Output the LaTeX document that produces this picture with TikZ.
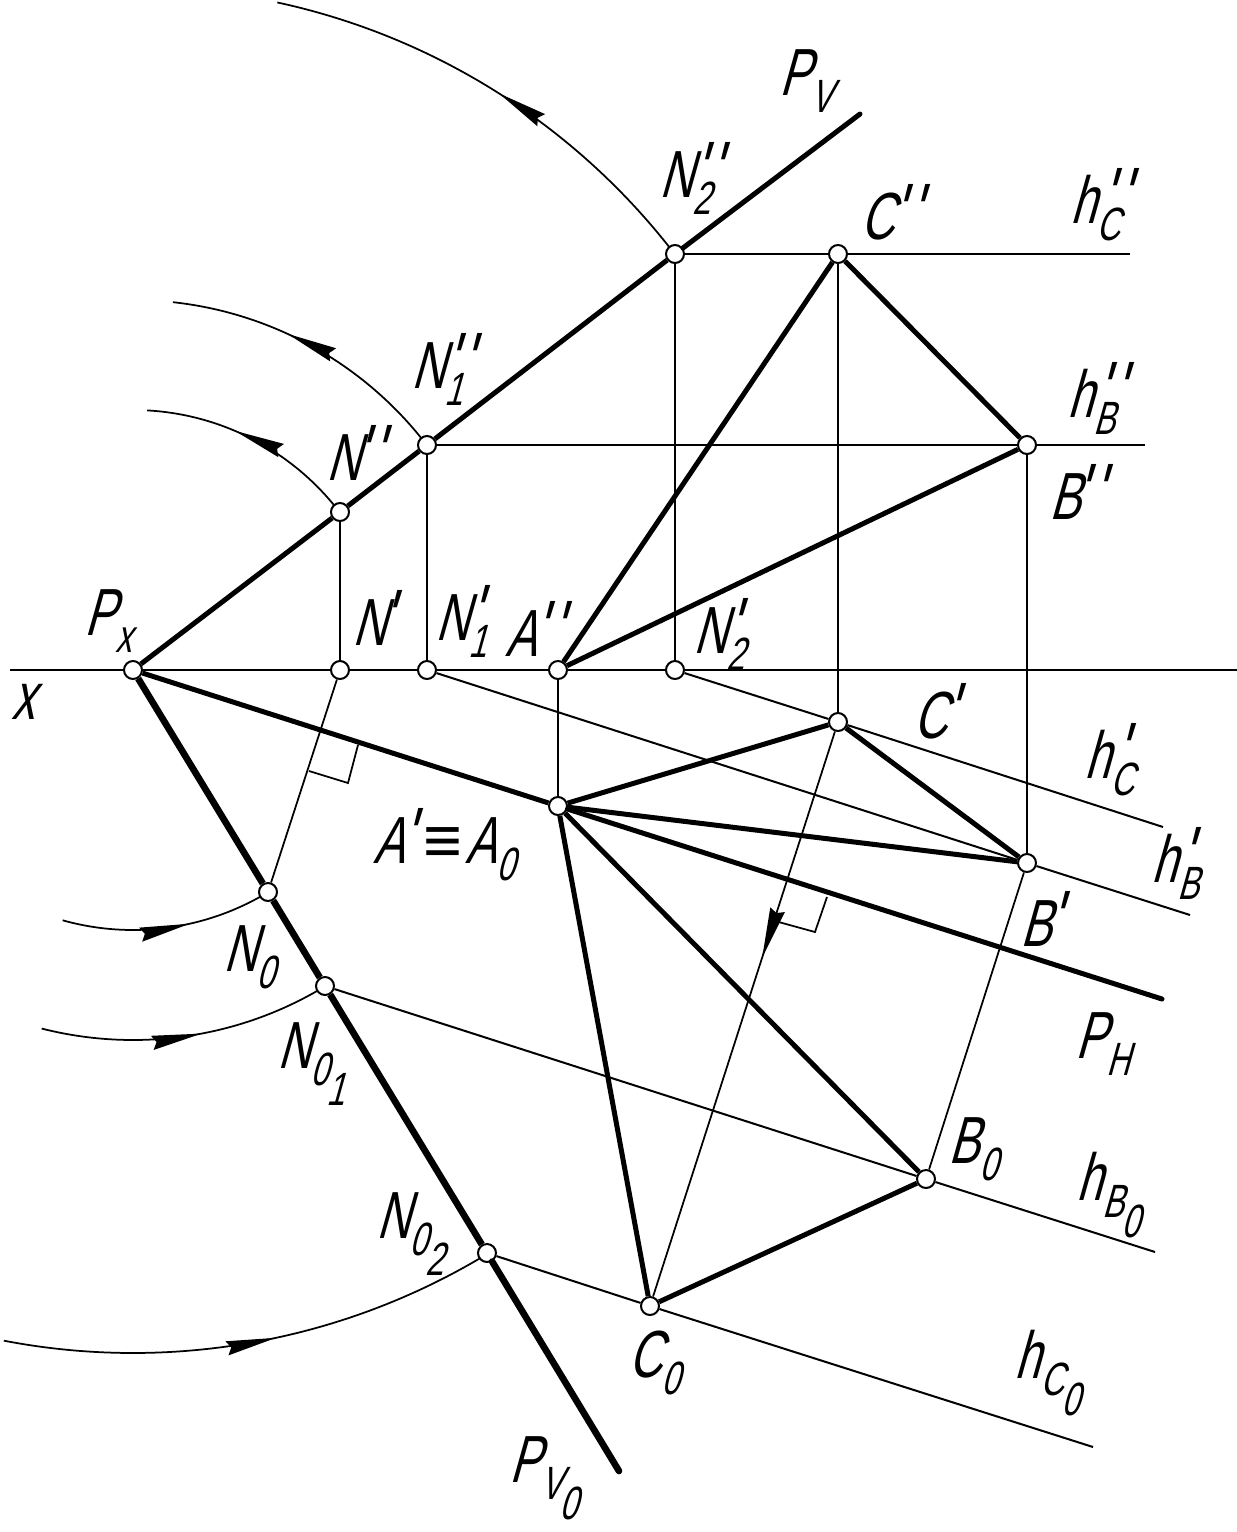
\documentclass[tikz,border=0pt]{standalone}
\usepackage{fontspec}
\usetikzlibrary{arrows.meta,decorations.markings}
\newfontfamily\gostfont[FakeStretch=.7,FakeSlant=.28]{Liberation Sans}
\newfontfamily\gostplain{Liberation Sans}
\newcommand{\sub}[1]{\raisebox{-10.5pt}{\fontsize{28}{28}\selectfont #1}}
\newcommand{\subb}[1]{\raisebox{-22.2pt}{\kern-1.5pt\fontsize{28}{28}\selectfont #1}}
\newcommand{\prm}[1]{\kern#1{\fontsize{48}{48}\selectfont '}}
\newcommand{\pprm}[1]{\kern#1{\fontsize{48}{48}\selectfont '\kern3.5pt'}}

\begin{document}
\begin{tikzpicture}[x=0.6pt,y=-0.6pt]
      \useasboundingbox (0,0) rectangle (1237,1532);
      \tikzset{pt/.style={draw,circle,fill=white,inner sep=0pt,minimum size=10.8pt,line width=1.2pt}}
      \tikzset{thinline/.style={line width=1.2pt}}
      \tikzset{fineline/.style={line width=1.05pt}}
      \tikzset{thickline/.style={line width=3pt}}
      \tikzset{heavyline/.style={line width=4pt}}
      \tikzset{lab/.style={anchor=base west,inner sep=0pt,xshift=-2.5pt,font=\gostfont\fontsize{40}{40}\selectfont}}
      \tikzset{rotarrow/.style={postaction={decorate,decoration={markings,mark=at position #1 with {\arrow{Stealth[length=30pt,width=8.5pt,inset=2.5pt]}}}}}}

      % rotation arcs first, the points lie on top
      \coordinate (Pxc) at (133,670);
      \draw[fineline,rotarrow=.58] ([shift={(-39.3:260)}]Pxc) arc[start angle=-39.3,end angle=-86.9,radius=260];
      \draw[fineline,rotarrow=.59] ([shift={(-38.7:370)}]Pxc) arc[start angle=-38.7,end angle=-83.8,radius=370];
      \draw[fineline,rotarrow=.49] ([shift={(-38.2:683)}]Pxc) arc[start angle=-38.2,end angle=-77.8,radius=683];
      \draw[fineline,rotarrow=.627] ([shift={(105.7:260)}]Pxc) arc[start angle=105.7,end angle=60.6,radius=260];
      \draw[fineline,rotarrow=.564] ([shift={(104.3:370)}]Pxc) arc[start angle=104.3,end angle=60,radius=370];
      \draw[fineline,rotarrow=.554] ([shift={(100.9:683)}]Pxc) arc[start angle=100.9,end angle=59.4,radius=683];

      \node[pt] (Px) at (133,670) {};
      \node[pt] (Npp) at (340,670) {};
      \node[pt] (N1pp) at (427,670) {};
      \node[pt] (Avv) at (558,670) {};
      \node[pt] (N2pp) at (675,670) {};
      \node[pt] (Nvv) at (340,512) {};
      \node[pt] (N1vv) at (427,445) {};
      \node[pt] (N2vv) at (675,254) {};
      \node[pt] (Cvv) at (838,254) {};
      \node[pt] (Bvv) at (1027,445) {};
      \node[pt] (Cpp) at (838,722) {};
      \node[pt] (Bpp) at (1027,863) {};
      \node[pt] (App) at (558,806) {};
      \node[pt] (N0) at (268,892) {};
      \node[pt] (N01) at (325,986) {};
      \node[pt] (N02) at (487,1253) {};
      \node[pt] (B0) at (926,1179) {};
      \node[pt] (C0) at (650,1306) {};

      \coordinate (xl) at (10,670);
      \coordinate (xr) at (1237,670);
      \coordinate (PVend) at (860,114);
      \coordinate (PHend) at (1162,999);
      \coordinate (PV0end) at (619,1471);
      \coordinate (hCvvend) at (1130,254);
      \coordinate (hBvvend) at (1145,445);
      \coordinate (hCppend) at (1163,827);
      \coordinate (hBppend) at (1190,915);
      \coordinate (hB0end) at (1155,1252);
      \coordinate (hC0end) at (1093,1447);

      \path[thinline]
      (xl) edge (Px)
      (Px) edge (Npp)
      (Npp) edge (N1pp)
      (N1pp) edge (Avv)
      (Avv) edge (N2pp)
      (N2pp) edge (xr)
      (Nvv) edge (Npp)
      (N1vv) edge (N1pp)
      (N2vv) edge (N2pp)
      (Cvv) edge (Cpp)
      (Bvv) edge (Bpp)
      (Avv) edge (App)
      (N2vv) edge (Cvv)
      (Cvv) edge (hCvvend)
      (N1vv) edge (Bvv)
      (Bvv) edge (hBvvend)
      (N2pp) edge (Cpp)
      (Cpp) edge (hCppend)
      (N1pp) edge (Bpp)
      (Bpp) edge (hBppend)
      (N01) edge (B0)
      (B0) edge (hB0end)
      (N02) edge (C0)
      (C0) edge (hC0end)
      ;
      \path[fineline]
      (Npp) edge (N0)
      (Bpp) edge (B0)
      (Cpp) edge[postaction={decorate,decoration={markings,mark=at position .4 with {\arrow{Stealth[length=30pt,width=9pt,inset=2pt]}}}}] (C0)
      ;

      % right angle marks
      \draw[fineline] (309,771) -- (348,783) -- (358,745);
      \draw[fineline] (775,921) -- (815,932) -- (827,897);

      \path[thickline]
      (Px) edge (Nvv)
      (Nvv) edge (N1vv)
      (N1vv) edge (N2vv)
      (N2vv) edge[line cap=round] (PVend)
      (Avv) edge (Cvv)
      (Avv) edge (Bvv)
      (Cvv) edge (Bvv)
      (App) edge (Cpp)
      (App) edge (Bpp)
      (Cpp) edge (Bpp)
      (Px) edge (App)
      (App) edge[line cap=round] (PHend)
      (App) edge (C0)
      (App) edge (B0)
      (C0) edge (B0)
      ;
      \path[heavyline]
      (Px) edge (N0)
      (N0) edge (N01)
      (N01) edge (N02)
      (N02) edge[line cap=round] (PV0end)
      ;

      \node[lab] (lPV) at (783,95) {P\sub{V}};
      \node[lab] (lN2vv) at (663,197) {N\sub{2}\pprm{-12pt}};
      \node[lab] (lCvv) at (864,239) {C\pprm{-2pt}};
      \node[lab] (lhCvv) at (1074,223) {h\sub{C}\pprm{-12pt}};
      \node[lab] (lhBvv) at (1071,417) {h\sub{B}\pprm{-12pt}};
      \node[lab] (lBvv) at (1053,519) {B\pprm{-4pt}};
      \node[lab] (lN1vv) at (415,388) {N\sub{1}\pprm{-12pt}};
      \node[lab] (lNvv) at (330,480) {N\pprm{-4pt}};
      \node[lab] (lPx) at (88,635) {P\sub{x}};
      \node[lab] (lx) at (15,719) {x};
      \node[lab] (lNpp) at (356,645) {N\prm{-4pt}};
      \node[lab] (lN1pp) at (439,640) {N\sub{1}\prm{-12pt}};
      \node[lab] (lAvv) at (509,656) {A\pprm{-2pt}};
      \node[lab] (lN2pp) at (697,653) {N\sub{2}\prm{-12pt}};
      \node[lab] (lCpp) at (917,738) {C\prm{-2pt}};
      \node[lab] (lhCpp) at (1088,778) {h\sub{C}\prm{-12pt}};
      \node[lab] (lhBpp) at (1155,882) {h\sub{B}\prm{-12pt}};
      \node[lab] (lBpp) at (1024,946) {B\prm{-2pt}};
      \node[lab] (lPH) at (1079,1058) {P\sub{H}};
      \node[lab] (lApp) at (377,863) {A\prm{-2pt}\kern7pt{\gostplain ≡}\kern2pt A\sub{0}};
      \node[lab] (lN0) at (227,971) {N\sub{0}};
      \node[lab] (lN01) at (281,1068) {N\sub{0}\subb{1}};
      \node[lab] (lN02) at (380,1238) {N\sub{0}\subb{2}};
      \node[lab] (lPV0) at (513,1482) {P\sub{V}\subb{0}};
      \node[lab] (lB0) at (952,1163) {B\sub{0}};
      \node[lab] (lhB0) at (1080,1200) {h\sub{B}\subb{0}};
      \node[lab] (lC0) at (632,1377) {C\sub{0}};
      \node[lab] (lhC0) at (1018,1378) {h\sub{C}\subb{0}};
\end{tikzpicture}
\end{document}
